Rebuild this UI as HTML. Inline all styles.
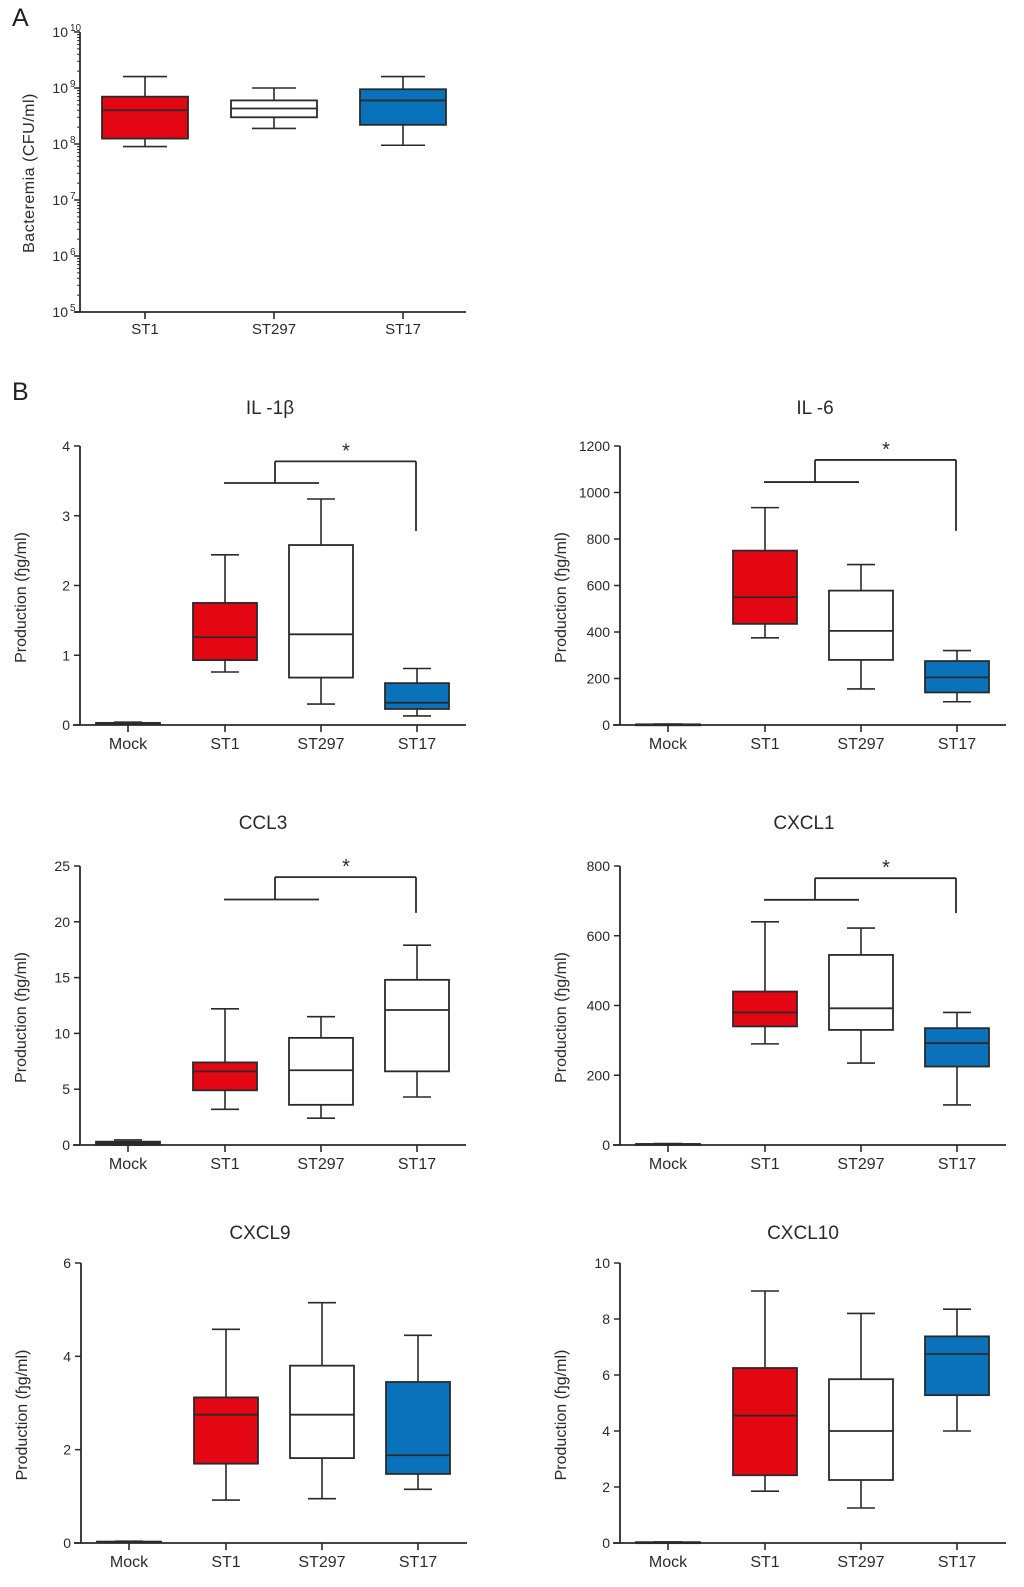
<!DOCTYPE html>
<html><head><meta charset="utf-8"><style>
body{margin:0;background:#fff}
svg{display:block;font-family:"Liberation Sans",Arial,sans-serif}
</style></head><body>
<svg id="fig" width="1024" height="1587" viewBox="0 0 1024 1587" xmlns="http://www.w3.org/2000/svg">
<text x="12" y="26" font-size="25" fill="#222">A</text>
<text x="12" y="400" font-size="25" fill="#222">B</text>
</svg>
<script>
const RED="#e30613",BLUE="#0a72ba",WHITE="#ffffff",INK="#2a2a2a";
// Panel A data (CFU/ml): [min,q1,median,q3,max]
const catsA=["ST1","ST297","ST17"];
const statsA=[[9e7,1.25e8,4e8,7e8,1.6e9],[1.9e8,3e8,4.3e8,6e8,1e9],[9.5e7,2.2e8,6e8,9.5e8,1.6e9]];
const fillA=[RED,WHITE,BLUE];
const expTicksA=[5,6,7,8,9,10];
// Panel B
const catsB=["Mock","ST1","ST297","ST17"];
const il1b=[[0.01,0.01,0.02,0.03,0.04],[0.76,0.93,1.26,1.75,2.44],[0.3,0.68,1.3,2.58,3.24],[0.13,0.23,0.32,0.6,0.81]];
const il6=[[1,1,2,3,4],[375,435,550,750,935],[155,280,405,578,690],[100,140,205,275,320]];
const ccl3=[[0,0,0.1,0.3,0.45],[3.2,4.9,6.6,7.4,12.2],[2.4,3.6,6.7,9.6,11.5],[4.3,6.6,12.1,14.8,17.9]];
const cxcl1=[[1,1,2,3,4],[290,340,380,440,640],[235,330,392,545,622],[115,225,292,335,380]];
const cxcl9=[[0.01,0.01,0.02,0.03,0.04],[0.92,1.7,2.75,3.12,4.58],[0.95,1.82,2.75,3.8,5.15],[1.15,1.48,1.88,3.45,4.45]];
const cxcl10=[[0.01,0.01,0.02,0.03,0.04],[1.85,2.42,4.55,6.25,9.0],[1.25,2.25,4.0,5.85,8.2],[4.0,5.28,6.75,7.38,8.35]];
const ticksIL1b=[0,1,2,3,4], ticksIL6=[0,200,400,600,800,1000,1200], ticksCCL3=[0,5,10,15,20,25];
const ticksCXCL1=[0,200,400,600,800], ticksCXCL9=[0,2,4,6], ticksCXCL10=[0,2,4,6,8,10];
const fillIL1b=[INK,RED,WHITE,BLUE], fillCCL3=[INK,RED,WHITE,WHITE];
// significance brackets: [low bar, top bar, right end]
const sigIL1b=[3.47,3.78,2.78], sigIL6=[1045,1140,835], sigCCL3=[22,24,20.8], sigCXCL1=[703,765,665];

const svg=document.getElementById('fig');
const NS="http://www.w3.org/2000/svg";
function mk(tag,attrs,parent){const e=document.createElementNS(NS,tag);for(const k in attrs)e.setAttribute(k,attrs[k]);(parent||svg).appendChild(e);return e;}
function line(x1,y1,x2,y2,w,g){return mk('line',{x1,y1,x2,y2,stroke:INK,'stroke-width':w||1.6},g);}

function drawBox(g,cx,s,y,hw,capw,fill){
  const b=mk('g',{},g);
  
  
  line(cx,y(s[0]),cx,y(s[1]),1.6,b);
  line(cx,y(s[3]),cx,y(s[4]),1.6,b);
  line(cx-capw,y(s[0]),cx+capw,y(s[0]),1.6,b);
  line(cx-capw,y(s[4]),cx+capw,y(s[4]),1.6,b);
  mk('rect',{x:cx-hw,y:y(s[3]),width:hw*2,height:Math.max(1,y(s[1])-y(s[3])),fill:fill,stroke:INK,'stroke-width':1.8},b);
  line(cx-hw,y(s[2]),cx+hw,y(s[2]),1.8,b);
}

// Panel A
(function(){
  const g=mk('g',{});
  
  
  const ax=80,yTop=32,yBot=312;
  const y=v=>yBot-(Math.log10(v)-5)/5*(yBot-yTop);
  const xs=[145,274,403];
  line(ax,yTop,ax,yBot,1.8,g);
  line(74,yBot,466,yBot,1.8,g);
  expTicksA.forEach(e=>{
    const yy=y(Math.pow(10,e));
    line(ax-6,yy,ax,yy,1.5,g);
    const t=mk('text',{x:ax-12,y:yy+5,'font-size':14,fill:INK,'text-anchor':'end'},g);
    
    
    t.textContent='10';
    const s=mk('text',{x:ax-10,y:yy-1,'font-size':10,fill:INK},g);
    
    
    s.textContent=String(e);
    if(e<10){for(let m=2;m<=9;m++){const ym=y(m*Math.pow(10,e));line(ax-3,ym,ax,ym,1,g);}}
  });
  catsA.forEach((c,i)=>{
    line(xs[i],yBot,xs[i],yBot+7,1.6,g);
    const t=mk('text',{x:xs[i],y:yBot+22,'font-size':15,fill:INK,'text-anchor':'middle'},g);
    
    
    t.textContent=c;
    drawBox(g,xs[i],statsA[i],y,43,22,fillA[i]);
  });
  const yl=mk('text',{x:0,y:0,'font-size':16,fill:INK,'text-anchor':'middle','letter-spacing':'0.5',transform:'translate(34,173) rotate(-90)'},g);
  
  
  yl.textContent='Bacteremia (CFU/ml)';
})();

function panel(name,title,ax,y0,yT,ticks,stats,fills,sig,titleX,titleY){
  const g=mk('g',{});
  
  
  const max=ticks[ticks.length-1];
  const y=v=>y0-v/max*(y0-yT);
  const xs=[ax+48,ax+145,ax+241,ax+337];
  line(ax,yT,ax,y0,1.8,g);
  line(ax-7,y0,ax+386,y0,1.8,g);
  ticks.forEach(v=>{
    const yy=y(v);line(ax-6,yy,ax,yy,1.5,g);
    const t=mk('text',{x:ax-10,y:yy+5,'font-size':14,fill:INK,'text-anchor':'end'},g);
    
    
    t.textContent=String(v);
  });
  catsB.forEach((c,i)=>{
    line(xs[i],y0,xs[i],y0+7,1.6,g);
    const t=mk('text',{x:xs[i],y:y0+24,'font-size':16,fill:INK,'text-anchor':'middle'},g);
    
    
    t.textContent=c;
    drawBox(g,xs[i],stats[i],y,32,14,fills[i]);
  });
  const tt=mk('text',{x:titleX,y:titleY,'font-size':19,fill:INK,'text-anchor':'middle'},g);
  
  
  tt.textContent=title;
  const yl=mk('text',{x:0,y:0,'font-size':16,fill:INK,'text-anchor':'middle',transform:`translate(${ax-54},${(y0+yT)/2+12}) rotate(-90)`},g);
  
  
  yl.textContent='Production (ɧg/ml)';
  if(sig){
    const bg=mk('g',{},g);
    
    
    const mid=(xs[1]+xs[2])/2+2;
    line(xs[1]-1,y(sig[0]),xs[2]-2,y(sig[0]),1.8,bg);
    line(mid,y(sig[0]),mid,y(sig[1]),1.8,bg);
    line(mid,y(sig[1]),xs[3]-1,y(sig[1]),1.8,bg);
    line(xs[3]-1,y(sig[1]),xs[3]-1,y(sig[2]),1.8,bg);
    const st=mk('text',{x:(mid+xs[3])/2,y:y(sig[1])-4,'font-size':20,fill:INK,'text-anchor':'middle'},bg);
    
    
    st.textContent='*';
  }
}
panel('il1b-chart','IL -1β',80,725,446,ticksIL1b,il1b,fillIL1b,sigIL1b,270,414);
panel('il6-chart','IL -6',620,725,446,ticksIL6,il6,fillIL1b,sigIL6,815,414);
panel('ccl3-chart','CCL3',80,1145,866,ticksCCL3,ccl3,fillCCL3,sigCCL3,263,829);
panel('cxcl1-chart','CXCL1',620,1145,866,ticksCXCL1,cxcl1,fillIL1b,sigCXCL1,804,829);
panel('cxcl9-chart','CXCL9',81,1543,1263,ticksCXCL9,cxcl9,fillIL1b,null,260,1239);
panel('cxcl10-chart','CXCL10',620,1543,1263,ticksCXCL10,cxcl10,fillIL1b,null,803,1239);
</script>
</body></html>
